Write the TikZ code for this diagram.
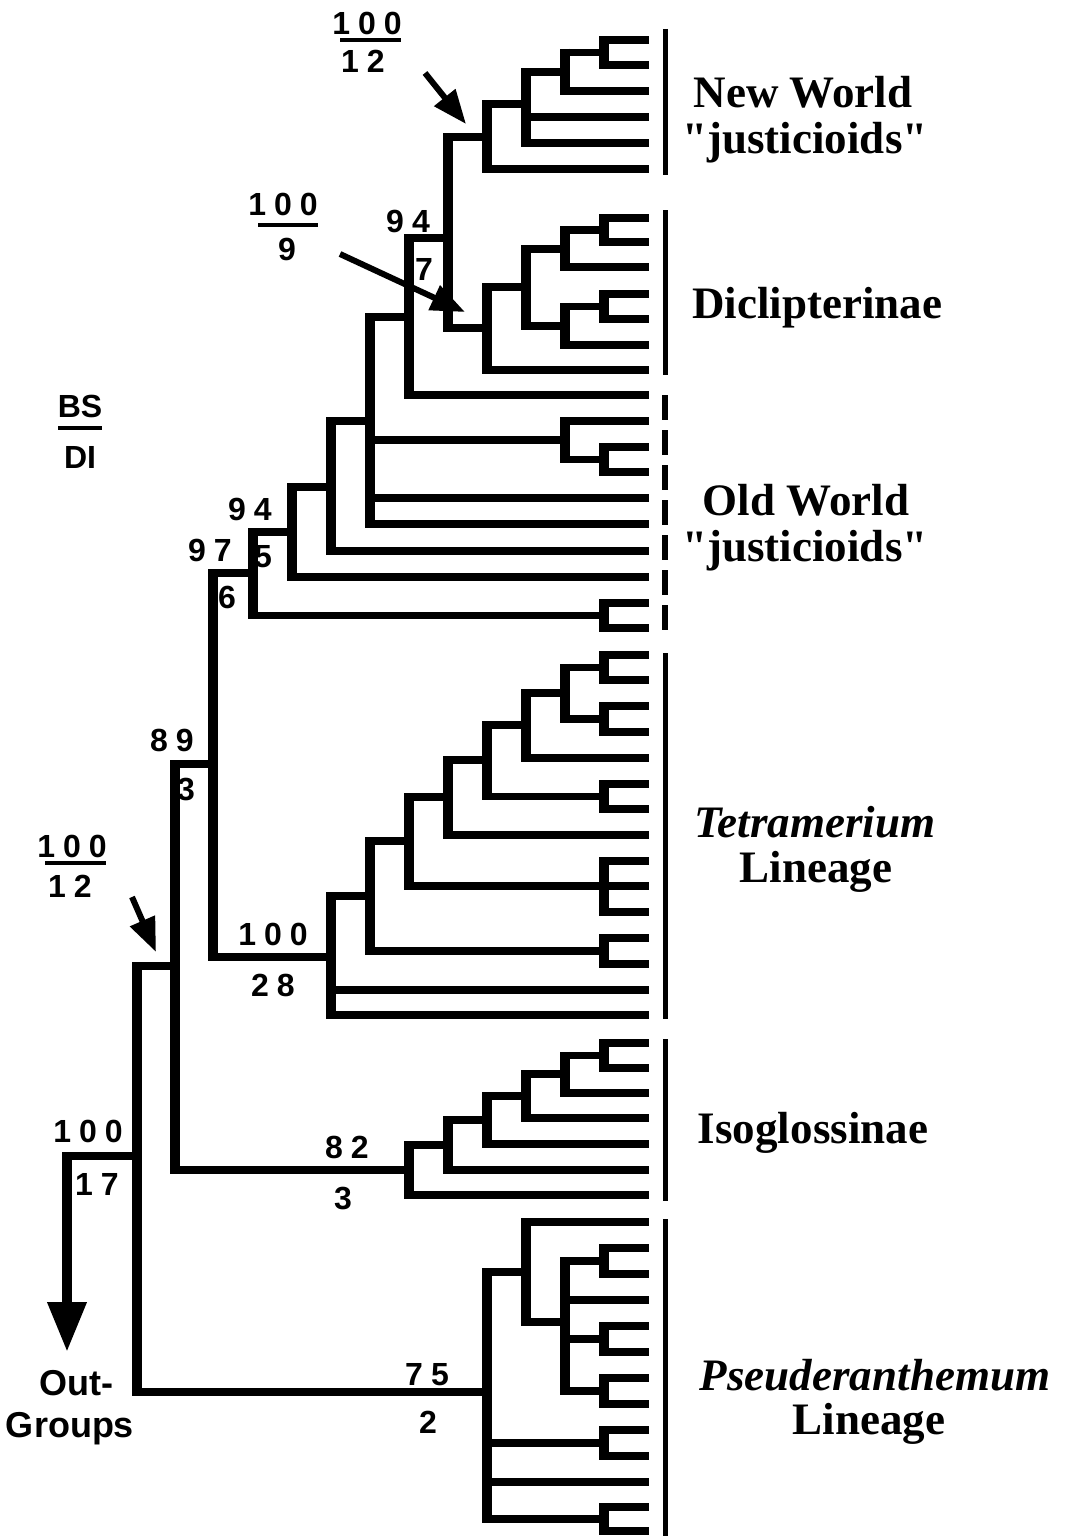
\documentclass[tikz,border=0pt]{standalone}
\usepackage{fontspec}
\setmainfont{Liberation Serif}
\setsansfont{Liberation Sans}
\usetikzlibrary{arrows.meta}
\newcommand\lk{\kern 4pt}
\newcommand\clade[4]{%
  \draw[vline] (#1 |- #2) -- (#1 |- #3);
  \foreach \ch in {#4}{\draw[hline] (#1 |- \ch) -- (\ch);}%
}
\begin{document}
\begin{tikzpicture}[x=0.5pt,y=-0.5pt,
  hline/.style={line width=3.75pt, shorten <=-2.5pt},
  vline/.style={line width=5pt, shorten <=-1.875pt, shorten >=-1.875pt},
  cbar/.style={line width=2.5pt},
  dbar/.style={line width=3pt, dash pattern=on 12.5pt off 5pt},
  fbar/.style={line width=2pt},
  num/.style={font=\sffamily\bfseries\fontsize{16}{16}\selectfont, anchor=base, inner sep=0pt},
  lgd/.style={font=\sffamily\bfseries\fontsize{18}{18}\selectfont, anchor=base, inner sep=0pt},
  lab/.style={font=\rmfamily\bfseries\fontsize{22.5}{22.5}\selectfont, anchor=base, inner sep=0pt},
  ilab/.style={font=\rmfamily\bfseries\itshape\fontsize{22.5}{22.5}\selectfont, anchor=base, inner sep=0pt},
  ptr/.style={line width=3pt, -{Triangle[width=13pt,length=17pt]}},
  ogptr/.style={line width=5pt, shorten <=-1.875pt, -{Triangle[width=18.5pt,length=25pt]}}
]
\useasboundingbox (0,0) rectangle (1069,1536);
% ---------- leaves ----------
\foreach \n/\y in {nw1/40,nw2/65,nw3/91,nw4/117,nw5/143,nw6/169,
  di1/218,di2/242,di3/267,di4/294,di5/319,di6/345,di7/370,
  ow1/395,ow2/421,ow3/447,ow4/472,ow5/498,ow6/524,ow7/551,ow8/577,ow9/603,ow10/628,
  te1/655,te2/680,te3/706,te4/732,te5/758,te6/784,te7/809,te8/835,te9/861,te10/886,
  te11/912,te12/938,te13/964,te14/990,te15/1015,
  is1/1043,is2/1068,is3/1093,is4/1118,is5/1144,is6/1170,is7/1195,
  ps1/1222,ps2/1248,ps3/1274,ps4/1300,ps5/1326,ps6/1352,ps7/1378,ps8/1404,
  ps9/1430,ps10/1456,ps11/1482,ps12/1507,ps13/1531}
  {\coordinate (\n) at (649,\y);}
% ---------- internal nodes ----------
\coordinate (a) at (604,52.5);
\coordinate (b) at (565,72);
\coordinate (c) at (526,104);
\coordinate (d) at (487,137);
\coordinate (f) at (604,230);
\coordinate (g) at (565,249);
\coordinate (h) at (604,306.5);
\coordinate (i) at (565,326);
\coordinate (j) at (526,287);
\coordinate (k) at (487,328);
\coordinate (e) at (448,238);
\coordinate (l) at (409,317);
\coordinate (o) at (604,459.5);
\coordinate (n) at (565,440);
\coordinate (m) at (370,421);
\coordinate (p) at (331,487);
\coordinate (q) at (292,532);
\coordinate (s) at (604,615.5);
\coordinate (r) at (253,573);
\coordinate (Ta) at (604,667.5);
\coordinate (Tb) at (604,719);
\coordinate (Tc) at (565,693);
\coordinate (Td) at (526,725);
\coordinate (Te) at (604,796.5);
\coordinate (Tf) at (487,760);
\coordinate (Tg) at (448,797);
\coordinate (Th) at (604,886);
\coordinate (Ti) at (409,841);
\coordinate (Tj) at (604,951);
\coordinate (Tk) at (370,896);
\coordinate (u) at (331,957);
\coordinate (t) at (213,764);
\coordinate (Ia) at (604,1055.5);
\coordinate (Ib) at (565,1074);
\coordinate (Ic) at (526,1096);
\coordinate (Id) at (487,1120);
\coordinate (Ie) at (448,1145);
\coordinate (If) at (409,1170);
\coordinate (v) at (175,966);
\coordinate (Pa) at (604,1261);
\coordinate (Pb) at (604,1339);
\coordinate (Pc) at (604,1391);
\coordinate (Pd) at (565,1322);
\coordinate (Pe) at (526,1272);
\coordinate (Pg) at (604,1443);
\coordinate (Ph) at (604,1519);
\coordinate (Pf) at (487,1392);
\coordinate (w) at (137,1156);
\coordinate (og) at (67,1156);
\coordinate (ogtip) at (67,1352);
% ---------- clades ----------
\clade{a}{nw1}{nw2}{nw1,nw2}
\clade{b}{a}{nw3}{a,nw3}
\clade{c}{b}{nw5}{b,nw4,nw5}
\clade{d}{c}{nw6}{c,nw6}
\clade{f}{di1}{di2}{di1,di2}
\clade{g}{f}{di3}{f,di3}
\clade{h}{di4}{di5}{di4,di5}
\clade{i}{h}{di6}{h,di6}
\clade{j}{g}{i}{g,i}
\clade{k}{j}{di7}{j,di7}
\clade{e}{d}{k}{d,k}
\clade{l}{e}{ow1}{e,ow1}
\clade{o}{ow3}{ow4}{ow3,ow4}
\clade{n}{ow2}{o}{ow2,o}
\clade{m}{l}{ow6}{l,n,ow5,ow6}
\clade{p}{m}{ow7}{m,ow7}
\clade{q}{p}{ow8}{p,ow8}
\clade{s}{ow9}{ow10}{ow9,ow10}
\clade{r}{q}{s}{q,s}
\clade{Ta}{te1}{te2}{te1,te2}
\clade{Tb}{te3}{te4}{te3,te4}
\clade{Tc}{Ta}{Tb}{Ta,Tb}
\clade{Td}{Tc}{te5}{Tc,te5}
\clade{Te}{te6}{te7}{te6,te7}
\clade{Tf}{Td}{Te}{Td,Te}
\clade{Tg}{Tf}{te8}{Tf,te8}
\clade{Th}{te9}{te11}{te9,te10,te11}
\clade{Ti}{Tg}{Th}{Tg,Th}
\clade{Tj}{te12}{te13}{te12,te13}
\clade{Tk}{Ti}{Tj}{Ti,Tj}
\clade{u}{Tk}{te15}{Tk,te14,te15}
\clade{t}{r}{u}{r,u}
\clade{Ia}{is1}{is2}{is1,is2}
\clade{Ib}{Ia}{is3}{Ia,is3}
\clade{Ic}{Ib}{is4}{Ib,is4}
\clade{Id}{Ic}{is5}{Ic,is5}
\clade{Ie}{Id}{is6}{Id,is6}
\clade{If}{Ie}{is7}{Ie,is7}
\clade{v}{t}{If}{t,If}
\clade{Pa}{ps2}{ps3}{ps2,ps3}
\clade{Pb}{ps5}{ps6}{ps5,ps6}
\clade{Pc}{ps7}{ps8}{ps7,ps8}
\clade{Pd}{Pa}{Pc}{Pa,ps4,Pb,Pc}
\clade{Pe}{ps1}{Pd}{ps1,Pd}
\clade{Pg}{ps9}{ps10}{ps9,ps10}
\clade{Ph}{ps12}{ps13}{ps12,ps13}
\clade{Pf}{Pe}{Ph}{Pe,Pg,ps11,Ph}
\clade{w}{v}{Pf}{v,Pf}
% outgroup arrow
\draw[hline, shorten <=0pt, shorten >=-2.5pt] (w) -- (og);
\draw[ogptr] (og) -- (ogtip);
% ---------- clade bars ----------
\coordinate (b1t) at (665,29);   \coordinate (b1b) at (665,175);
\coordinate (b2t) at (665,210);  \coordinate (b2b) at (665,375);
\coordinate (b3t) at (665,395);  \coordinate (b3b) at (665,630);
\coordinate (b4t) at (665,653);  \coordinate (b4b) at (665,1019);
\coordinate (b5t) at (665,1039); \coordinate (b5b) at (665,1201);
\coordinate (b6t) at (665,1219); \coordinate (b6b) at (665,1536);
\draw[cbar] (b1t) -- (b1b);
\draw[cbar] (b2t) -- (b2b);
\draw[dbar] (b3t) -- (b3b);
\draw[cbar] (b4t) -- (b4b);
\draw[cbar] (b5t) -- (b5b);
\draw[cbar] (b6t) -- (b6b);
% ---------- clade labels ----------
\node[lab] (lnw1) at (803,108) {New World};
\node[lab] (lnw2) at (805,154) {\textquotedbl justicioids\textquotedbl};
\node[lab] (ldi) at (817,318) {Diclipterinae};
\node[lab] (low1) at (806,515) {Old World};
\node[lab] (low2) at (805,561) {\textquotedbl justicioids\textquotedbl};
\node[ilab] (lte1) at (815,837) {Tetramerium};
\node[lab] (lte2) at (816,882) {Lineage};
\node[lab] (lis) at (813,1143) {Isoglossinae};
\node[ilab] (lps1) at (875,1390) {Pseuderanthemum};
\node[lab] (lps2) at (869,1434) {Lineage};
% ---------- support values ----------
\node[num] (n1a) at (367,35) {1\lk0\lk0};
\coordinate (fb1a) at (340,40); \coordinate (fb1b) at (401,40);
\draw[fbar] (fb1a) -- (fb1b);
\node[num] (n1b) at (363,73) {1\lk2};
\node[num] (n2a) at (283,215) {1\lk0\lk0};
\coordinate (fb2a) at (258,225); \coordinate (fb2b) at (318,225);
\draw[fbar] (fb2a) -- (fb2b);
\node[num] (n2b) at (287,260) {9};
\node[num] (n3a) at (408,232) {9\lk4};
\node[num] (n3b) at (424,280) {7};
\node[num] (n4a) at (250,520) {9\lk4};
\node[num] (n4b) at (263,567) {5};
\node[num] (n5a) at (210,561) {9\lk7};
\node[num] (n5b) at (227,608) {6};
\node[num] (n6a) at (172,751) {8\lk9};
\node[num] (n6b) at (186,800) {3};
\node[num] (n7a) at (273,945) {1\lk0\lk0};
\node[num] (n7b) at (273,996) {2\lk8};
\node[num] (n8a) at (72,857) {1\lk0\lk0};
\coordinate (fb3a) at (45,863); \coordinate (fb3b) at (106,863);
\draw[fbar] (fb3a) -- (fb3b);
\node[num] (n8b) at (70,897) {1\lk2};
\node[num] (n9a) at (347,1158) {8\lk2};
\node[num] (n9b) at (343,1209) {3};
\node[num] (n10a) at (88,1142) {1\lk0\lk0};
\node[num] (n10b) at (97,1195) {1\lk7};
\node[num] (n11a) at (427,1385) {7\lk5};
\node[num] (n11b) at (428,1433) {2};
% legend
\node[num] (bs) at (80,417) {BS};
\coordinate (fb4a) at (58,428); \coordinate (fb4b) at (102,428);
\draw[fbar] (fb4a) -- (fb4b);
\node[num] (di) at (80,468) {DI};
\node[lgd] (out1) at (76,1395) {Out-};
\node[lgd] (out2) at (70,1437) {Groups};
% ---------- pointer arrows ----------
\coordinate (ar1s) at (425,73);  \coordinate (ar1e) at (466,124);
\coordinate (ar2s) at (340,254); \coordinate (ar2e) at (465,312);
\coordinate (ar3s) at (132,897); \coordinate (ar3e) at (156,952);
\draw[ptr] (ar1s) -- (ar1e);
\draw[ptr] (ar2s) -- (ar2e);
\draw[ptr] (ar3s) -- (ar3e);
\end{tikzpicture}
\end{document}
